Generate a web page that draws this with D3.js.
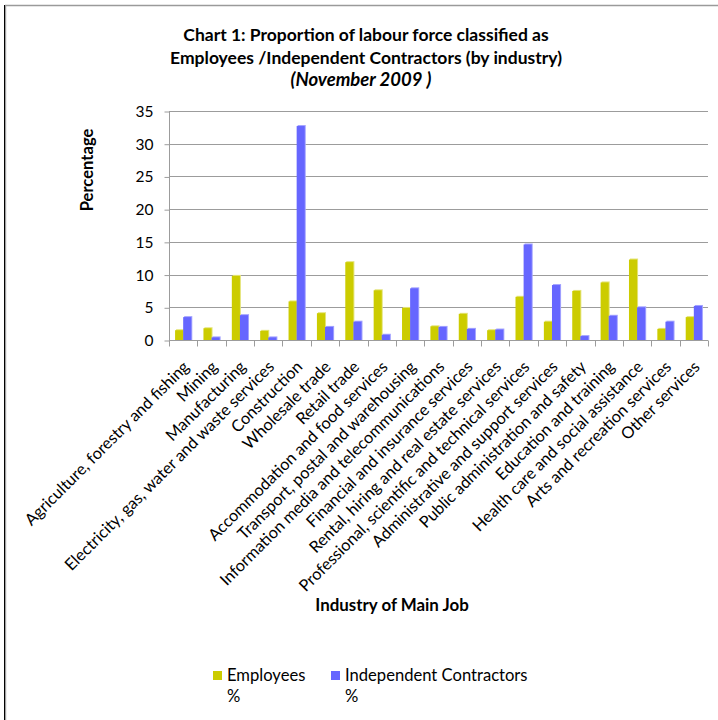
<!DOCTYPE html>
<html>
<head>
<meta charset="utf-8">
<script src="https://cdn.jsdelivr.net/npm/d3@7/dist/d3.min.js"></script>
<style>
  html, body { margin: 0; padding: 0; background: #fff; }
  svg { display: block; }
  text { font-family: Lato, "Open Sans", sans-serif; fill: #000; }
</style>
</head>
<body>
<svg id="chart" width="718" height="720"></svg>
<script>
// Industry of main job
const industries = [
  "Agriculture, forestry and fishing",
  "Mining",
  "Manufacturing",
  "Electricity, gas, water and waste services",
  "Construction",
  "Wholesale trade",
  "Retail trade",
  "Accommodation and food services",
  "Transport, postal and warehousing",
  "Information media and telecommunications",
  "Financial and insurance services",
  "Rental, hiring and real estate services",
  "Professional, scientific and technical services",
  "Administrative and support services",
  "Public administration and safety",
  "Education and training",
  "Health care and social assistance",
  "Arts and recreation services",
  "Other services"
];

// Share of each group working in the industry (%)
const employeesPct = [1.5, 1.8, 9.8, 1.4, 5.9, 4.1, 11.9, 7.6, 4.9, 2.1, 4.0, 1.5, 6.6, 2.8, 7.5, 8.8, 12.3, 1.7, 3.5];
const contractorsPct = [3.5, 0.4, 3.8, 0.4, 32.7, 2.0, 2.8, 0.8, 7.9, 2.0, 1.7, 1.6, 14.6, 8.4, 0.6, 3.7, 5.0, 2.8, 5.2];

const seriesNames = ["Employees %", "Independent Contractors %"];
const seriesColors = ["#CCCC00", "#6666FF"];
const seriesEdge = ["#E4E47A", "#A3A3FF"];
const yTicks = [0, 5, 10, 15, 20, 25, 30, 35];

const titleLines = [
  "Chart 1: Proportion of labour force classified as",
  "Employees /Independent Contractors (by industry)"
];
const subtitle = "(November 2009 )";

const rows = industries.map((name, i) => ({
  name,
  values: [employeesPct[i], contractorsPct[i]]
}));

const svg = d3.select("#chart");

// outer frame
svg.append("line").attr("x1", 5).attr("x2", 718).attr("y1", 5.5).attr("y2", 5.5)
  .attr("stroke", "#9a9a9a").attr("stroke-width", 1.5);
svg.append("line").attr("x1", 4.5).attr("x2", 4.5).attr("y1", 5).attr("y2", 720)
  .attr("stroke", "#000").attr("stroke-width", 1);
svg.append("line").attr("x1", 5.6).attr("x2", 5.6).attr("y1", 5).attr("y2", 720)
  .attr("stroke", "#a0a0a0").attr("stroke-width", 1.2);

const plot = { left: 169, right: 708, top: 111, bottom: 340 };

const x0 = d3.scaleBand().domain(industries).range([plot.left, plot.right]).padding(0);
const x1 = d3.scaleBand().domain(d3.range(seriesNames.length))
  .range([0, x0.bandwidth()]).paddingInner(0).paddingOuter(0.75);
const y = d3.scaleLinear().domain([0, 35]).range([plot.bottom, plot.top]);

// horizontal gridlines
svg.append("g")
  .selectAll("line")
  .data(yTicks.filter(t => t > 0))
  .join("line")
  .attr("x1", plot.left).attr("x2", plot.right)
  .attr("y1", d => Math.round(y(d)) + 0.5).attr("y2", d => Math.round(y(d)) + 0.5)
  .attr("stroke", "#9c9c9c").attr("stroke-width", 1);

// y axis
const yAxis = svg.append("g")
  .attr("transform", `translate(${plot.left + 0.5},0.5)`)
  .call(d3.axisLeft(y).tickValues(yTicks).tickSize(5).tickPadding(11).tickFormat(d3.format("d")));
yAxis.select(".domain").attr("stroke", "#9c9c9c").attr("d", `M0,${y(35)}V${y(0)}`);
yAxis.selectAll(".tick line").attr("stroke", "#9c9c9c");
yAxis.selectAll(".tick text").style("font-size", "15.5px").style("font-family", "Lato, sans-serif").attr("fill", "#000");

// bars
const groups = svg.append("g")
  .selectAll("g")
  .data(rows)
  .join("g")
  .attr("transform", d => `translate(${x0(d.name)},0)`);

groups.selectAll("rect.edge")
  .data(d => d.values.map((v, k) => ({ v, k })))
  .join("rect")
  .attr("class", "edge")
  .attr("x", d => x1(d.k) + 1)
  .attr("y", d => y(d.v) - 1)
  .attr("width", x1.bandwidth())
  .attr("height", d => y(0) - y(d.v) + 1)
  .attr("fill", d => seriesEdge[d.k]);

groups.selectAll("rect.bar")
  .data(d => d.values.map((v, k) => ({ v, k })))
  .join("rect")
  .attr("class", "bar")
  .attr("x", d => x1(d.k))
  .attr("y", d => y(d.v))
  .attr("width", x1.bandwidth())
  .attr("height", d => y(0) - y(d.v))
  .attr("fill", d => seriesColors[d.k]);

// x axis with category ticks at band boundaries
const xAxisG = svg.append("g").attr("transform", `translate(0,${plot.bottom + 0.5})`);
xAxisG.append("line").attr("x1", plot.left).attr("x2", plot.right)
  .attr("stroke", "#9c9c9c");
xAxisG.selectAll("line.tick")
  .data(industries.concat([null]))
  .join("line")
  .attr("class", "tick")
  .attr("x1", (d, i) => Math.round(plot.left + i * x0.step()) + 0.5)
  .attr("x2", (d, i) => Math.round(plot.left + i * x0.step()) + 0.5)
  .attr("y1", 0).attr("y2", 6)
  .attr("stroke", "#9c9c9c");

// rotated category labels
svg.append("g")
  .selectAll("text")
  .data(industries)
  .join("text")
  .attr("transform", d => `translate(${x0(d) + x0.bandwidth() / 2 + 4},${plot.bottom + 25}) rotate(-45)`)
  .attr("text-anchor", "end")
  .attr("dy", "0.25em")
  .style("font-size", "16.3px")
  .text(d => d);

// titles
const title = svg.append("text")
  .attr("text-anchor", "middle")
  .style("font-size", "17.5px")
  .style("font-weight", "bold");
titleLines.forEach((line, i) => {
  title.append("tspan").attr("x", 366).attr("y", 41 + i * 22.5).text(line);
});
svg.append("text")
  .attr("x", 361).attr("y", 86)
  .attr("text-anchor", "middle")
  .style("font-size", "18.5px")
  .style("font-weight", "bold")
  .style("font-style", "italic")
  .text(subtitle);

svg.append("text")
  .attr("transform", "translate(93,170) rotate(-90)")
  .attr("text-anchor", "middle")
  .style("font-size", "16.6px")
  .style("font-weight", "bold")
  .text("Percentage");

svg.append("text")
  .attr("x", 392).attr("y", 611)
  .attr("text-anchor", "middle")
  .style("font-size", "16.9px")
  .style("font-weight", "bold")
  .text("Industry of Main Job");

// legend
const legendX = [213, 331];
const legend = svg.append("g")
  .selectAll("g")
  .data(seriesNames)
  .join("g")
  .attr("transform", (d, i) => `translate(${legendX[i]},671)`);
legend.append("rect")
  .attr("width", 9).attr("height", 9)
  .attr("fill", (d, i) => seriesColors[i]);
legend.each(function (d) {
  const parts = d.split(" ");
  const last = parts.pop();
  const t = d3.select(this).append("text").style("font-size", "16.6px").attr("fill", "#222");
  t.append("tspan").attr("x", 14).attr("y", 10).text(parts.join(" "));
  t.append("tspan").attr("x", 14).attr("y", 31).text(last);
});
</script>
</body>
</html>
